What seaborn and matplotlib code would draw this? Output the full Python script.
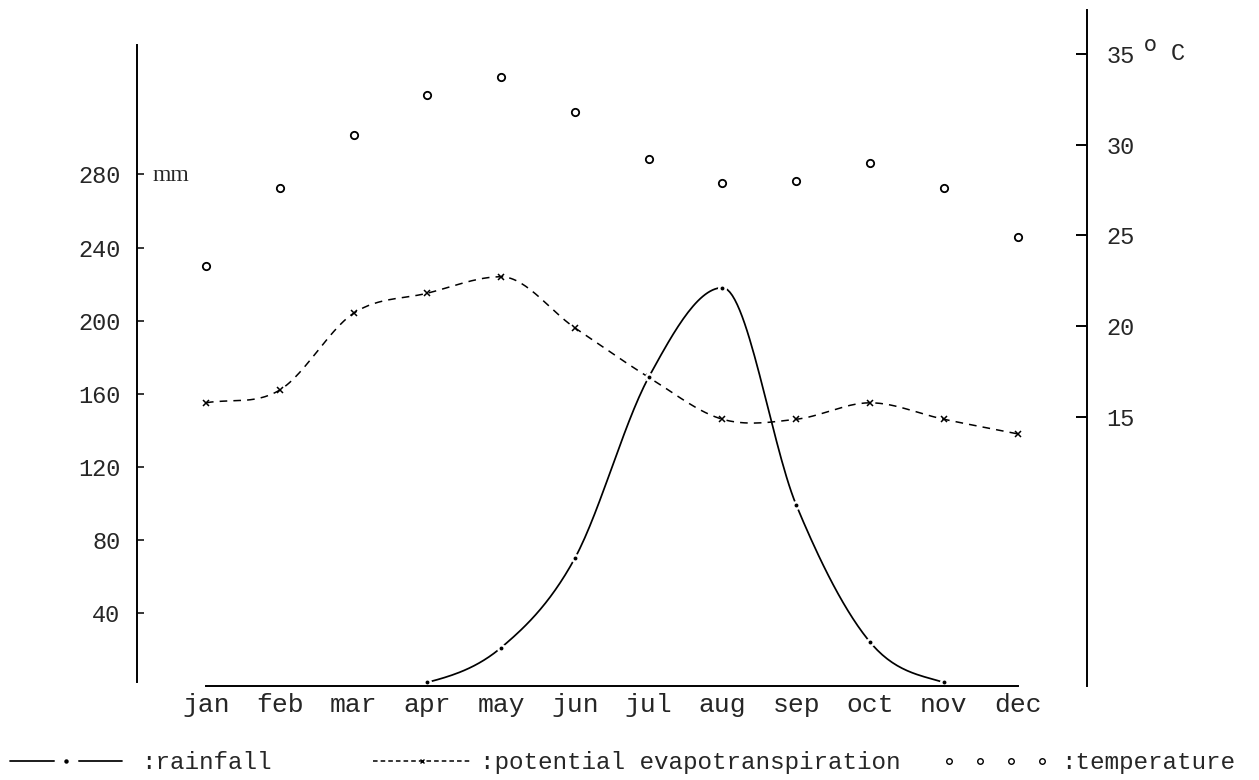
import numpy as np
import matplotlib
matplotlib.use("Agg")
import matplotlib.pyplot as plt
import seaborn as sns
from matplotlib.lines import Line2D
from matplotlib.legend_handler import HandlerTuple

# plain white look, typewriter-ish font
sns.set_theme(style="white")
plt.rcParams['font.family'] = ['Liberation Mono', 'DejaVu Sans']

# ---- data ----
months = ['jan', 'feb', 'mar', 'apr', 'may', 'jun',
          'jul', 'aug', 'sep', 'oct', 'nov', 'dec']
temperature = [23.3, 27.6, 30.5, 32.7, 33.7, 31.8, 29.2, 27.9, 28.0, 29.0, 27.6, 24.9]  # deg C
evapotranspiration = [155, 162, 204, 215, 224, 196, 169, 146, 146, 155, 146, 138]      # mm
rainfall = [0, 0, 0, 2, 21, 70, 169, 218, 99, 24, 2, 0]                               # mm
mm_ticks = [40, 80, 120, 160, 200, 240, 280]
temp_ticks = [15, 20, 25, 30, 35]


def smooth(values, n=30):
    # hermite curve through the monthly points, for drawing only.
    # tangent = mean of the neighbouring slopes, flat where the series turns
    y = np.asarray(values, float)
    d = np.diff(y)
    m = np.gradient(y)
    turn = d[:-1] * d[1:] < 0
    m[1:-1][turn] = 0
    t = np.linspace(0, 1, n, endpoint=False)
    xs, ys = [], []
    for i in range(len(y) - 1):
        h00 = 2 * t**3 - 3 * t**2 + 1
        h10 = t**3 - 2 * t**2 + t
        h01 = -2 * t**3 + 3 * t**2
        h11 = t**3 - t**2
        ys.append(h00 * y[i] + h10 * m[i] + h01 * y[i + 1] + h11 * m[i + 1])
        xs.append(i + t)
    xs.append([len(y) - 1])
    ys.append([y[-1]])
    return np.concatenate(xs), np.concatenate(ys)


x = np.arange(len(months))
rain = np.array(rainfall, float)
wet = np.nonzero(rain > 0)[0]

fig = plt.figure(figsize=(12.59, 7.8), dpi=100)
ax = fig.add_axes([0.1088, 0.1205, 0.7546, 0.8667])
ax2 = ax.twinx()

LW = 1.25

# potential evapotranspiration: dashed curve with small x marks
px, py = smooth(evapotranspiration)
sns.lineplot(x=px, y=py, ax=ax, color='black', lw=1.1, sort=False, estimator=None)
ax.lines[-1].set_dashes((5, 4))
ax.plot(x, evapotranspiration, ls='none', marker='x', ms=4, mew=1.1, color='black')

# rainfall: solid curve broken by a dot at each month
rx, ry = smooth(rainfall)
keep = (rx >= wet[0]) & (rx <= wet[-1])
sns.lineplot(x=rx[keep], y=np.clip(ry[keep], 0, None), ax=ax, color='black',
             lw=LW, sort=False, estimator=None)
ax.plot(x[wet], rain[wet], ls='none', marker='o', ms=6.5, mfc='white', mec='none')
ax.plot(x[wet], rain[wet], ls='none', marker='o', ms=2.8, mfc='black', mec='none')

# temperature: open circles on the right hand scale
sns.scatterplot(x=x, y=temperature, ax=ax2, marker='o', s=28, facecolor='white',
                edgecolor='black', linewidth=1.3, zorder=3)

# ---- axes ----
ax.set_xlim(-0.935, 11.94)
ax.set_ylim(0, 370)
ax2.set_ylim(0.22, 37.4)

ax.set_xticks(x)
ax.set_xticklabels(months, fontsize=19)
ax.set_yticks(mm_ticks)
ax.set_yticklabels([str(v) for v in mm_ticks], fontsize=17)
ax2.set_yticks(temp_ticks)
ax2.set_yticklabels([str(v) for v in temp_ticks], fontsize=17)

for a in (ax, ax2):
    for s in a.spines.values():
        s.set_visible(False)
    a.grid(False)
    a.set_xlabel('')
    a.set_ylabel('')
    a.patch.set_visible(False)

ax.spines['bottom'].set_visible(True)
ax.spines['bottom'].set_bounds(0, 11)
ax.spines['left'].set_visible(True)
ax.spines['left'].set_bounds(2, 351)
ax2.spines['right'].set_visible(True)
for s in (ax.spines['bottom'], ax.spines['left'], ax2.spines['right']):
    s.set_color('black')
    s.set_linewidth(1.4)

ax.tick_params(axis='x', direction='in', length=5, width=1.1, color='black', pad=5)
ax.tick_params(axis='y', direction='in', length=5, width=1.1, color='black', pad=12)
ax2.tick_params(axis='y', direction='in', length=8, width=1.4, color='black', pad=14)

# unit marks
ax.annotate('mm', xy=(0, 280), xycoords=('axes fraction', 'data'), xytext=(11, -1),
            textcoords='offset points', ha='left', va='center', fontsize=17,
            family='Liberation Serif')
ax2.annotate('o', xy=(1, 35), xycoords=('axes fraction', 'data'), xytext=(41, 6),
             textcoords='offset points', ha='left', va='center', fontsize=15,
             family='DejaVu Sans')
ax2.annotate('C', xy=(1, 35), xycoords=('axes fraction', 'data'), xytext=(60, 0),
             textcoords='offset points', ha='left', va='center', fontsize=17)

# ---- legend along the bottom, one block per entry ----
h_gap = Line2D([], [], color='black', lw=LW, marker='o', ms=17, mfc='white', mec='none')
h_dot = Line2D([], [], ls='none', marker='o', ms=3.2, mfc='black', mec='none')
h_pet = Line2D([], [], color='black', lw=1.1, dashes=(3, 2), marker='x', ms=3.5, mew=1)
h_temp = Line2D([], [], ls='none', marker='o', ms=4, mfc='white', mec='black', mew=1)
entries = [
    ((h_gap, h_dot), ':rainfall', 1, 10, 4.6, 0.8),
    (h_pet, ':potential evapotranspiration', 1, 373, 4.0, 0.4),
    (h_temp, ':temperature', 4, 942, 4.4, 0.5),
]
for handle, label, npts, left_px, hlen, pad in entries:
    fig.legend([handle], [label], handler_map={tuple: HandlerTuple(ndivide=1, pad=0)},
               numpoints=npts, loc='center left',
               bbox_to_anchor=(left_px / 1259, 0.022), frameon=False, fontsize=17.5,
               handlelength=hlen, handletextpad=pad, borderpad=0, borderaxespad=0)

fig.savefig('out.png', dpi=100)
